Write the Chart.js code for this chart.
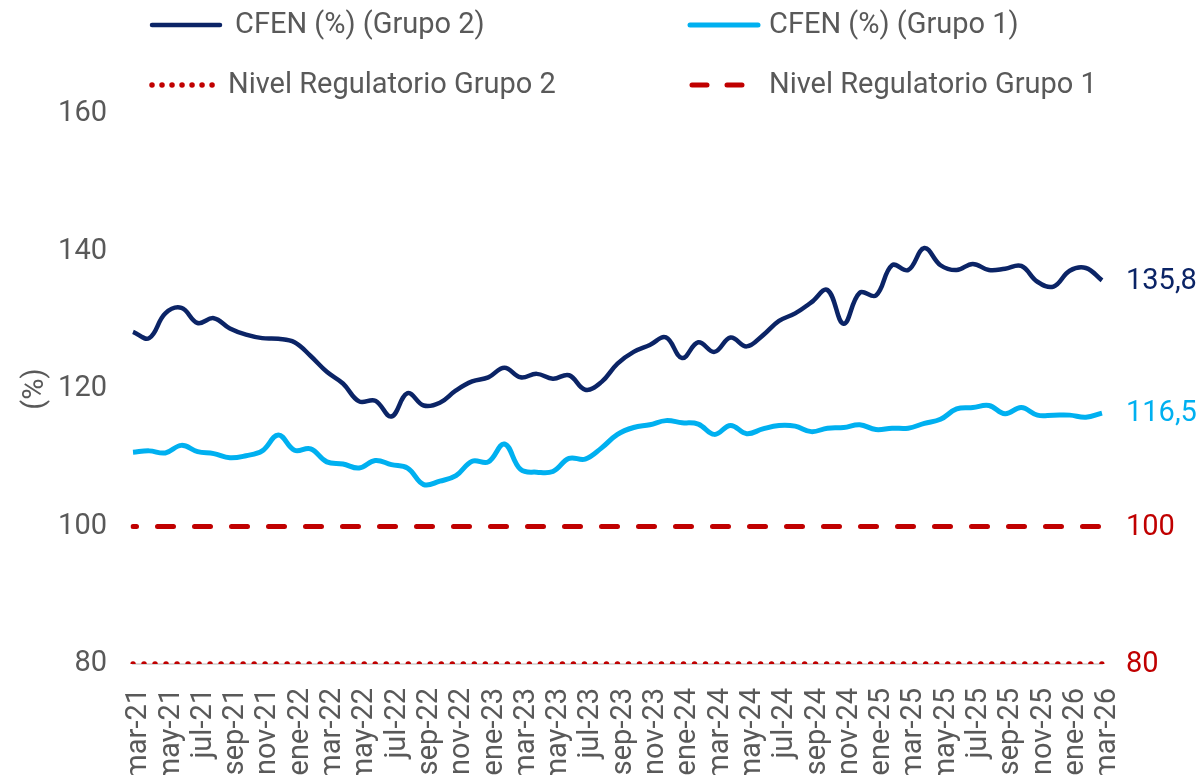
<!DOCTYPE html>
<html>
<head>
<meta charset="utf-8">
<script src="https://cdn.jsdelivr.net/npm/chart.js@4.4.1/dist/chart.umd.min.js"></script>
<style>
  body { margin: 0; background: #fff; }
  #wrap { width: 1203px; height: 775px; position: relative; }
</style>
</head>
<body>
<div id="wrap"><canvas id="cfen"></canvas></div>
<script>
// meses mar-21 .. mar-26
const nombresMes = ['ene','feb','mar','abr','may','jun','jul','ago','sep','oct','nov','dic'];
const meses = [];
for (let a = 21; a <= 26; a++) {
  for (let m = 0; m < 12; m++) {
    if (a === 21 && m < 2) continue;
    if (a === 26 && m > 2) break;
    meses.push(nombresMes[m] + '-' + a);
  }
}

const cfenGrupo2 = [
  128.3, 127.4, 131.0, 131.8, 129.6, 130.3, 128.8, 127.9, 127.4, 127.3,
  126.8, 124.8, 122.5, 120.8, 118.2, 118.3, 116.0, 119.4, 117.6, 118.0,
  119.8, 121.1, 121.7, 123.1, 121.7, 122.2, 121.5, 122.0, 119.9, 121.0,
  123.7, 125.4, 126.4, 127.5, 124.5, 126.8, 125.4, 127.5, 126.2, 127.8,
  129.9, 131.0, 132.6, 134.4, 129.5, 134.0, 133.6, 138.0, 137.3, 140.5,
  138.0, 137.3, 138.2, 137.3, 137.5, 137.9, 135.6, 134.9, 137.2, 137.6,
  135.8
];
const cfenGrupo1 = [
  110.8, 111.0, 110.7, 111.8, 110.9, 110.6, 110.0, 110.3, 111.0, 113.3,
  111.1, 111.3, 109.4, 109.1, 108.5, 109.6, 109.0, 108.5, 106.1, 106.6,
  107.4, 109.5, 109.4, 112.0, 108.3, 107.9, 108.0, 109.9, 109.8, 111.4,
  113.4, 114.4, 114.8, 115.4, 115.1, 114.9, 113.4, 114.7, 113.5, 114.2,
  114.7, 114.6, 113.8, 114.3, 114.4, 114.8, 114.1, 114.3, 114.3, 115.0,
  115.6, 117.1, 117.3, 117.6, 116.4, 117.3, 116.2, 116.2, 116.2, 115.9,
  116.5
];
const nivelGrupo2 = meses.map(() => 80);
const nivelGrupo1 = meses.map(() => 100);
const ticksY = [80, 100, 120, 140, 160];

const gris = '#595959';
const azulOscuro = '#0b2466';
const azulClaro = '#00b0f0';
const rojo = '#c00000';
const fuente = 'Roboto, "Noto Sans", sans-serif';
const tam = 29;

// leyenda en dos columnas arriba
const leyenda = {
  id: 'leyenda',
  afterDraw(chart) {
    const ctx = chart.ctx;
    const pos = [
      { x0: 152, x1: 220, tx: 235, y: 25 },
      { x0: 690, x1: 758, tx: 769, y: 25 },
      { x0: 152, x1: 218, tx: 228, y: 85 },
      { x0: 692, x1: 746, tx: 769, y: 85 }
    ];
    chart.data.datasets.forEach((ds, i) => {
      const p = pos[i];
      ctx.save();
      ctx.strokeStyle = ds.borderColor;
      ctx.lineWidth = ds.borderWidth;
      ctx.lineCap = 'round';
      ctx.setLineDash(ds.legendDash || []);
      ctx.beginPath();
      ctx.moveTo(p.x0, p.y);
      ctx.lineTo(p.x1, p.y);
      ctx.stroke();
      ctx.setLineDash([]);
      ctx.fillStyle = gris;
      ctx.font = tam + 'px ' + fuente;
      ctx.textBaseline = 'middle';
      ctx.textAlign = 'left';
      ctx.fillText(ds.label, p.tx, p.y + 1);
      ctx.restore();
    });
  }
};

// etiqueta del último valor a la derecha
const ultimos = {
  id: 'ultimos',
  afterDraw(chart) {
    const ctx = chart.ctx;
    const y = chart.scales.y;
    const x0 = chart.chartArea.right + 24;
    chart.data.datasets.forEach(ds => {
      const v = ds.data[ds.data.length - 1];
      const txt = Number.isInteger(v) ? String(v) : v.toFixed(1).replace('.', ',');
      ctx.save();
      ctx.fillStyle = ds.labelColor;
      ctx.font = tam + 'px ' + fuente;
      ctx.textBaseline = 'middle';
      ctx.textAlign = 'left';
      ctx.fillText(txt, x0, y.getPixelForValue(v) + 1);
      ctx.restore();
    });
  }
};

new Chart(document.getElementById('cfen'), {
  type: 'line',
  data: {
    labels: meses,
    datasets: [
      {
        label: 'CFEN (%) (Grupo 2)',
        data: cfenGrupo2,
        borderColor: azulOscuro,
        borderWidth: 4.5,
        tension: 0.4,
        pointRadius: 0,
        labelColor: azulOscuro,
        order: 1
      },
      {
        label: 'CFEN (%) (Grupo 1)',
        data: cfenGrupo1,
        borderColor: azulClaro,
        borderWidth: 5,
        tension: 0.4,
        pointRadius: 0,
        labelColor: azulClaro,
        order: 2
      },
      {
        label: 'Nivel Regulatorio Grupo 2',
        data: nivelGrupo2,
        borderColor: rojo,
        borderWidth: 5.5,
        borderDash: [0.01, 11],
        borderCapStyle: 'round',
        legendDash: [0.01, 10],
        pointRadius: 0,
        labelColor: rojo,
        order: 3
      },
      {
        label: 'Nivel Regulatorio Grupo 1',
        data: nivelGrupo1,
        borderColor: rojo,
        borderWidth: 5,
        borderDash: [16, 21],
        borderDashOffset: 12.5,
        borderCapStyle: 'round',
        legendDash: [15, 20],
        pointRadius: 0,
        labelColor: rojo,
        order: 4
      }
    ]
  },
  options: {
    responsive: true,
    maintainAspectRatio: false,
    animation: false,
    layout: { padding: { top: 114, right: 101, left: 0, bottom: 0 } },
    plugins: {
      legend: { display: false },
      tooltip: { enabled: false }
    },
    scales: {
      x: {
        offset: false,
        grid: { display: false, drawTicks: false },
        border: { display: true, color: '#d9d9d9', width: 2 },
        ticks: {
          autoSkip: false,
          maxRotation: 90,
          minRotation: 90,
          padding: 24,
          labelOffset: 6,
          color: gris,
          font: { family: fuente, size: tam },
          callback: (v, i) => (i % 2 === 0 ? meses[i] : '')
        },
        afterFit: s => { s.height = 111; }
      },
      y: {
        min: 80,
        max: 160,
        afterBuildTicks: s => { s.ticks = ticksY.map(v => ({ value: v })); },
        grid: { display: false, drawTicks: false },
        border: { display: false },
        ticks: {
          padding: 26,
          color: gris,
          font: { family: fuente, size: tam }
        },
        title: {
          display: true,
          text: '(%)',
          color: gris,
          font: { family: fuente, size: tam },
          padding: { top: 18, bottom: 0 }
        },
        afterFit: s => { s.width = 133; }
      }
    }
  },
  plugins: [leyenda, ultimos]
});
</script>
</body>
</html>
